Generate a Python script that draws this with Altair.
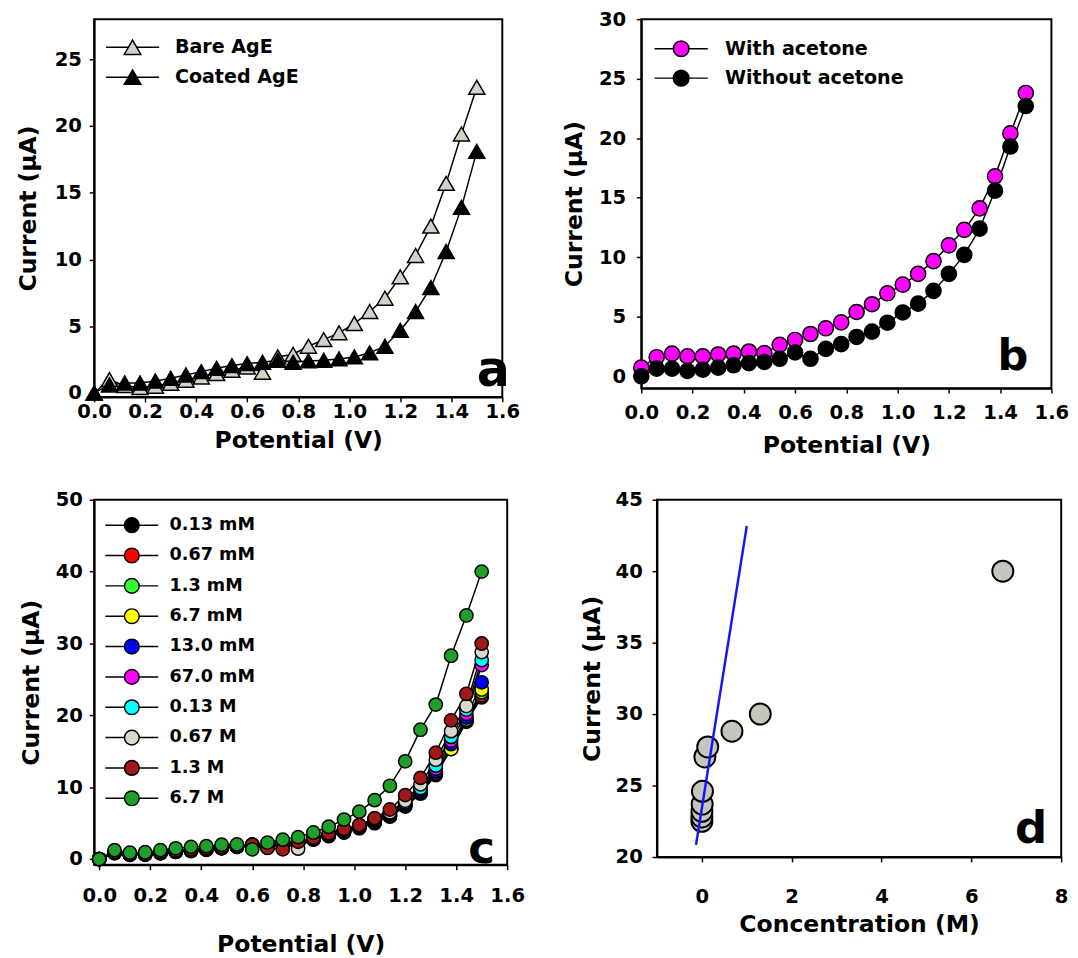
import altair as alt
import pandas as pd

FONT = "DejaVu Sans"

# ---------------- data ----------------
potential = [0.0, 0.06, 0.12, 0.18, 0.24, 0.30, 0.36, 0.42, 0.48, 0.54, 0.60, 0.66, 0.72,
             0.78, 0.84, 0.90, 0.96, 1.02, 1.08, 1.14, 1.20, 1.26, 1.32, 1.38, 1.44, 1.50]
x_ticks = [0.0, 0.2, 0.4, 0.6, 0.8, 1.0, 1.2, 1.4, 1.6]

# panel a
a_names = ["Bare AgE", "Coated AgE"]
a_colors = ["#d2d2c6", "#000000"]
a_bare = [0, 1.0, 0.55, 0.4, 0.5, 0.72, 0.95, 1.2, 1.45, 1.7, 1.95, 1.55, 2.7,
          2.9, 3.5, 4.0, 4.5, 5.2, 6.1, 7.1, 8.7, 10.3, 12.5, 15.7, 19.4, 22.9]
a_coated = [0, 0.6, 0.75, 0.75, 0.9, 1.1, 1.35, 1.6, 1.85, 2.05, 2.2, 2.3, 2.45,
            2.3, 2.4, 2.45, 2.55, 2.7, 3.0, 3.5, 4.7, 6.1, 7.9, 10.6, 13.9, 18.1]

# panel b
b_names = ["With acetone", "Without acetone"]
b_colors = ["#ff00ff", "#000000"]
b_with = [0.72, 1.6, 1.9, 1.67, 1.67, 1.83, 1.9, 2.08, 1.94, 2.64, 3.05, 3.55, 4.03,
          4.53, 5.4, 6.05, 6.97, 7.7, 8.6, 9.67, 11.0, 12.3, 14.1, 16.8, 20.4, 23.8]
b_without = [0, 0.64, 0.64, 0.45, 0.55, 0.72, 0.92, 1.1, 1.2, 1.47, 2.0, 1.47, 2.3,
             2.7, 3.3, 3.75, 4.5, 5.36, 6.1, 7.17, 8.6, 10.2, 12.4, 15.6, 19.3, 22.7]

# panel c
c_names = ["0.13 mM", "0.67 mM", "1.3 mM", "6.7 mM", "13.0 mM", "67.0 mM",
           "0.13 M", "0.67 M", "1.3 M", "6.7 M"]
c_colors = ["#000000", "#ff0000", "#33ff33", "#ffff00", "#0000ff", "#ff00ff",
            "#00ffff", "#d8d8cc", "#a01818", "#1f9e2a"]
c_013mM = [0, 0.8, 0.6, 0.6, 0.8, 1.0, 1.1, 1.3, 1.5, 1.7, 1.9, 1.6, 2.0,
           2.3, 2.7, 3.2, 3.7, 4.3, 5.0, 5.9, 7.3, 9.1, 11.7, 15.3, 19.1, 22.5]
c_067mM = [0, 0.85, 0.6, 0.65, 0.8, 1.0, 1.15, 1.3, 1.5, 1.7, 1.9, 1.6, 2.05,
           2.3, 2.75, 3.25, 3.75, 4.35, 5.1, 6.0, 7.4, 9.2, 11.8, 15.4, 19.2, 22.8]
c_13mM = [0, 0.9, 0.65, 0.7, 0.85, 1.05, 1.2, 1.35, 1.55, 1.7, 1.9, 1.65, 2.1,
          2.35, 2.8, 3.3, 3.8, 4.4, 5.2, 6.0, 7.5, 9.3, 11.9, 15.5, 19.3, 23.2]
c_67mM = [0, 0.9, 0.65, 0.7, 0.85, 1.05, 1.2, 1.35, 1.55, 1.75, 1.9, 1.65, 2.1,
          2.4, 2.8, 3.3, 3.85, 4.45, 5.2, 6.1, 7.5, 9.3, 12.0, 15.3, 19.4, 23.6]
c_130mM = [0, 0.9, 0.7, 0.7, 0.9, 1.05, 1.2, 1.4, 1.55, 1.75, 1.95, 1.7, 2.1,
           2.4, 2.85, 3.35, 3.9, 4.5, 5.3, 6.1, 7.6, 9.4, 12.2, 16.0, 19.7, 24.6]
c_670mM = [0, 0.95, 0.7, 0.75, 0.9, 1.1, 1.25, 1.4, 1.6, 1.8, 1.95, 1.7, 2.15,
           2.45, 2.9, 3.4, 3.95, 4.6, 5.4, 6.3, 7.8, 9.7, 12.6, 16.5, 20.2, 27.0]
c_013M = [0, 0.95, 0.7, 0.75, 0.9, 1.1, 1.25, 1.45, 1.6, 1.8, 2.0, 1.7, 2.2,
          2.5, 2.95, 3.45, 4.0, 4.65, 5.5, 6.4, 7.9, 9.9, 13.0, 17.0, 20.8, 27.7]
c_067M = [0, 1.0, 0.75, 0.8, 0.95, 1.15, 1.3, 1.5, 1.65, 1.85, 2.0, 1.75, 2.2,
          1.45, 3.0, 3.5, 4.05, 4.7, 5.6, 6.5, 8.1, 10.4, 13.8, 17.8, 21.3, 28.8]
c_13M = [0, 1.0, 0.75, 0.8, 1.0, 1.2, 1.35, 1.5, 1.7, 1.9, 2.0, 1.55, 1.35,
         2.4, 2.95, 3.6, 4.2, 4.75, 5.7, 6.9, 8.9, 11.3, 14.8, 19.3, 23.0, 30.0]
c_67M = [0, 1.25, 0.9, 0.95, 1.25, 1.5, 1.7, 1.8, 2.0, 2.05, 1.35, 2.3, 2.7,
         3.05, 3.7, 4.5, 5.5, 6.6, 8.2, 10.2, 13.6, 18.0, 21.5, 28.3, 33.9, 40.0]

# panel d
d_conc = [0.00013, 0.00067, 0.0013, 0.0067, 0.013, 0.067, 0.13, 0.67, 1.3, 6.7]
d_current = [22.5, 22.8, 23.2, 23.7, 24.6, 27.0, 27.7, 28.8, 30.0, 40.0]
d_fit_conc = [-0.13, 1.0]
d_fit_current = [20.85, 43.16]

# panel letters (data coordinates)
letters = ["a", "b", "c", "d"]
letter_x = [1.565, 1.45, 1.50, 7.33]
letter_y = [0.5, 0.5, -0.6, 21.0]


# ---------------- helpers ----------------
def long_df(names, series, sname):
    rows = []
    for n, vals in zip(names, series):
        for xv, yv in zip(potential, vals):
            rows.append({"Potential": xv, "Current": yv, sname: n})
    return pd.DataFrame(rows)


def ax(title, values, fmt, lp, tp):
    return alt.Axis(title=title, values=values, format=fmt, labelPadding=lp,
                    titlePadding=tp, labelFlush=False, labelOverlap=False,
                    grid=False, tickSize=5)


def leg(path, size, x, y, lo, rp, fs):
    return alt.Legend(title=None, orient="none", legendX=x, legendY=y,
                      symbolType=path, symbolSize=size, symbolStrokeColor="black",
                      symbolStrokeWidth=1.5, symbolOffset=20, labelOffset=lo,
                      rowPadding=rp, labelFont=FONT, labelFontSize=fs,
                      labelFontWeight="bold", labelColor="black", padding=0,
                      symbolOpacity=1, labelLimit=400)


TRI_PATH = "M-3.2,0H-0.5M0.5,0H3.2M0,-0.866L1,0.866L-1,0.866Z"
CIRC_B = "M-3.4,0H-1M1,0H3.4M-1,0A1,1,0,1,0,1,0A1,1,0,1,0,-1,0Z"
CIRC_C = "M-3.6,0H-1M1,0H3.6M-1,0A1,1,0,1,0,1,0A1,1,0,1,0,-1,0Z"


def letter_chart(i, xenc, yenc, xfield, yfield, fs):
    df = pd.DataFrame({xfield: [letter_x[i]], yfield: [letter_y[i]], "tag": [letters[i]]})
    return alt.Chart(df).mark_text(font=FONT, fontSize=fs, fontWeight="bold",
                                   baseline="alphabetic", align="center",
                                   color="black").encode(xenc, yenc, text="tag:N")


# ---------------- panel a ----------------
df_a = long_df(a_names, [a_bare, a_coated], "Electrode")
xa = alt.X("Potential:Q", scale=alt.Scale(domain=[0, 1.6], nice=False, zero=False),
           axis=ax("Potential (V)", x_ticks, ".1f", 0, 8))
ya = alt.Y("Current:Q", scale=alt.Scale(domain=[-0.3, 28.0], nice=False, zero=False),
           axis=ax("Current (μA)", [0, 5, 10, 15, 20, 25], "d", 8, 14))
A = alt.layer(
    alt.Chart(df_a).mark_line(color="black", strokeWidth=1.5).encode(xa, ya, detail="Electrode:N"),
    alt.Chart(df_a).mark_point(shape="triangle-up", filled=True, size=270, stroke="black",
                               strokeWidth=1.5, opacity=1).encode(
        xa, ya,
        fill=alt.Fill("Electrode:N", scale=alt.Scale(domain=a_names, range=a_colors),
                      legend=leg(TRI_PATH, 289, 9.5, 19, 33.5, 8.5, 19.5))),
    letter_chart(0, xa, ya, "Potential", "Current", 50),
).properties(width=417, height=386)

# ---------------- panel b ----------------
df_b = long_df(b_names, [b_with, b_without], "Condition")
xb = alt.X("Potential:Q", scale=alt.Scale(domain=[0, 1.6], nice=False, zero=False),
           axis=ax("Potential (V)", x_ticks, ".1f", 10, 12))
yb = alt.Y("Current:Q", scale=alt.Scale(domain=[-1, 30], nice=False, zero=False),
           axis=ax("Current (μA)", [0, 5, 10, 15, 20, 25, 30], "d", 11, 12))
B = alt.layer(
    alt.Chart(df_b).mark_line(color="black", strokeWidth=1.5).encode(xb, yb, detail="Condition:N"),
    alt.Chart(df_b).mark_point(shape="circle", filled=True, size=240, stroke="black",
                               strokeWidth=1.5, opacity=1).encode(
        xb, yb,
        fill=alt.Fill("Condition:N", scale=alt.Scale(domain=b_names, range=b_colors),
                      legend=leg(CIRC_B, 256, 11, 20.5, 35, 7, 19.5))),
    letter_chart(1, xb, yb, "Potential", "Current", 44),
).properties(width=419, height=377)

# ---------------- panel c ----------------
df_c = long_df(c_names, [c_013mM, c_067mM, c_13mM, c_67mM, c_130mM, c_670mM,
                         c_013M, c_067M, c_13M, c_67M], "Level")
xc = alt.X("Potential:Q", scale=alt.Scale(domain=[-0.02, 1.6], nice=False, zero=False),
           axis=ax("Potential (V)", x_ticks, ".1f", 16, 29))
yc = alt.Y("Current:Q", scale=alt.Scale(domain=[-0.8, 50], nice=False, zero=False),
           axis=ax("Current (μA)", [0, 10, 20, 30, 40, 50], "d", 7, 12))
C = alt.layer(
    alt.Chart(df_c).mark_line(color="black", strokeWidth=1.5).encode(xc, yc, detail="Level:N"),
    alt.Chart(df_c).mark_point(shape="circle", filled=True, size=185, stroke="black",
                               strokeWidth=1.5, opacity=1).encode(
        xc, yc,
        fill=alt.Fill("Level:N", scale=alt.Scale(domain=c_names, range=c_colors),
                      legend=leg(CIRC_C, 225, 9.5, 17, 29.5, 9, 18))),
    letter_chart(2, xc, yc, "Potential", "Current", 46),
).properties(width=422, height=373)

# ---------------- panel d ----------------
df_d = pd.DataFrame({"Concentration": d_conc, "Current": d_current})
df_fit = pd.DataFrame({"Concentration": d_fit_conc, "Current": d_fit_current})
xd = alt.X("Concentration:Q", scale=alt.Scale(domain=[-1, 8], nice=False, zero=False),
           axis=ax("Concentration (M)", [0, 2, 4, 6, 8], "d", 25, 7))
yd = alt.Y("Current:Q", scale=alt.Scale(domain=[20, 45], nice=False, zero=False),
           axis=ax("Current (μA)", [20, 25, 30, 35, 40, 45], "d", 10, 11))
D = alt.layer(
    alt.Chart(df_d).mark_point(shape="circle", filled=True, size=460, fill="#c6c6bc",
                               stroke="black", strokeWidth=2, opacity=1).encode(xd, yd),
    alt.Chart(df_fit).mark_line(color="#1414ff", strokeWidth=2.5).encode(xd, yd),
    letter_chart(3, xd, yd, "Concentration", "Current", 46),
).properties(width=413, height=365)

row1 = alt.hconcat(A, B, spacing=42).resolve_scale(fill="independent")
row2 = alt.hconcat(C, D, spacing=55).resolve_scale(fill="independent")

chart = alt.vconcat(row1, row2, spacing=31).resolve_scale(
    fill="independent"
).properties(
    padding={"left": 8, "top": -10, "right": 0, "bottom": 0}
).configure(font=FONT).configure_view(
    stroke="black", strokeWidth=2
).configure_axis(
    labelFont=FONT, labelFontSize=20, labelFontWeight="bold", labelColor="black",
    titleFont=FONT, titleFontSize=24, titleFontWeight="bold", titleColor="black",
    domainColor="black", domainWidth=2, tickColor="black", tickWidth=1.5, grid=False
)

chart.save("out.html", embed_options={"renderer": "svg", "actions": False})
